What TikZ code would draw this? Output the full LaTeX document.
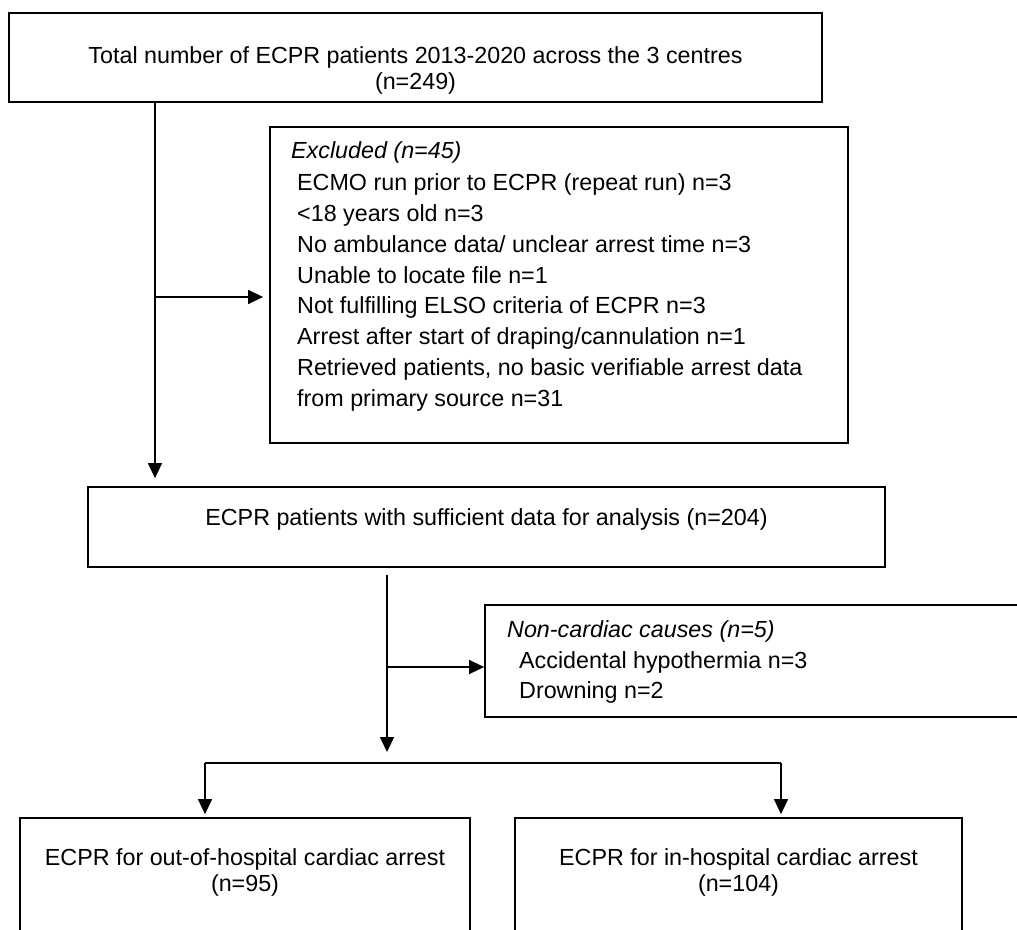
\documentclass[tikz,border=0pt]{standalone}
\usepackage{fontspec}
\setmainfont{Liberation Sans}
\usetikzlibrary{arrows.meta,calc}
\begin{document}
\begin{tikzpicture}[x=1pt,y=-1pt,
 box/.style={draw=black, line width=1.8pt, rectangle, inner sep=0pt},
 arr/.style={line width=1.5pt, -{Triangle[length=15pt,width=14pt]}},
 ln/.style={line width=1.5pt},
 txt/.style={font=\fontsize{23.3}{31}\selectfont, inner sep=0pt},
 itx/.style={font=\fontsize{23.3}{31}\selectfont\itshape, inner sep=0pt},
]
\fill[white] (0,0) rectangle (1017,929);
\useasboundingbox (0,0) rectangle (1017,929);
\clip (0,0) rectangle (1017,929);

% boxes
\node[box, minimum width=813pt, minimum height=89pt] (top) at (415.5,57.5) {};
\node[box, minimum width=578pt, minimum height=316pt] (excl) at (559,285) {};
\node[box, minimum width=797pt, minimum height=80pt] (mid) at (486.5,527) {};
\node[box, minimum width=560pt, minimum height=112pt] (nonc) at (765,661) {};
\node[box, minimum width=450pt, minimum height=140pt] (out) at (245,888) {};
\node[box, minimum width=447pt, minimum height=140pt] (inh) at (738.5,888) {};

% texts
\node[txt, anchor=base] (t1) at (415.5,63) {Total number of ECPR patients 2013-2020 across the 3 centres};
\node[txt, anchor=base] (t2) at (415.5,89) {(n=249)};

\node[itx, anchor=base west] (e0) at (291,158) {Excluded (n=45)};
\node[txt, anchor=base west] (e1) at (297,190) {ECMO run prior to ECPR (repeat run) n=3};
\node[txt, anchor=base west] (e2) at (297,221) {<18 years old n=3};
\node[txt, anchor=base west] (e3) at (297,252) {No ambulance data/ unclear arrest time n=3};
\node[txt, anchor=base west] (e4) at (297,283) {Unable to locate file n=1};
\node[txt, anchor=base west] (e5) at (297,313) {Not fulfilling ELSO criteria of ECPR n=3};
\node[txt, anchor=base west] (e6) at (297,344) {Arrest after start of draping/cannulation n=1};
\node[txt, anchor=base west] (e7) at (297,375) {Retrieved patients, no basic verifiable arrest data};
\node[txt, anchor=base west] (e8) at (297,406) {from primary source n=31};

\node[txt, anchor=base] (m1) at (486.5,525) {ECPR patients with sufficient data for analysis (n=204)};

\node[itx, anchor=base west] (n0) at (507,637) {Non-cardiac causes (n=5)};
\node[txt, anchor=base west] (n1) at (519,668) {Accidental hypothermia n=3};
\node[txt, anchor=base west] (n2) at (519,698) {Drowning n=2};

\node[txt, anchor=base] (o1) at (245,865) {ECPR for out-of-hospital cardiac arrest};
\node[txt, anchor=base] (o2) at (245,891) {(n=95)};
\node[txt, anchor=base] (i1) at (738.5,865) {ECPR for in-hospital cardiac arrest};
\node[txt, anchor=base] (i2) at (738.5,891) {(n=104)};

% connectors
\coordinate (c1) at (155,0);
\coordinate (b1) at (155,297);
\draw[arr, shorten >=8pt] (top.south -| c1) -- (mid.north -| c1);
\draw[arr, shorten >=6pt] (b1) -- (b1 -| excl.west);

\coordinate (c2) at (387,575);
\coordinate (c2e) at (387,752);
\coordinate (b2) at (387,667);
\coordinate (sl) at (205,763);
\coordinate (sr) at (781,763);
\draw[arr] (c2) -- (c2e);
\draw[arr] (b2) -- (b2 -| nonc.west);
\draw[ln] (sl) -- (sr);
\draw[arr, shorten >=3pt] (sl) -- (sl |- out.north);
\draw[arr, shorten >=3pt] (sr) -- (sr |- inh.north);
\end{tikzpicture}
\end{document}
